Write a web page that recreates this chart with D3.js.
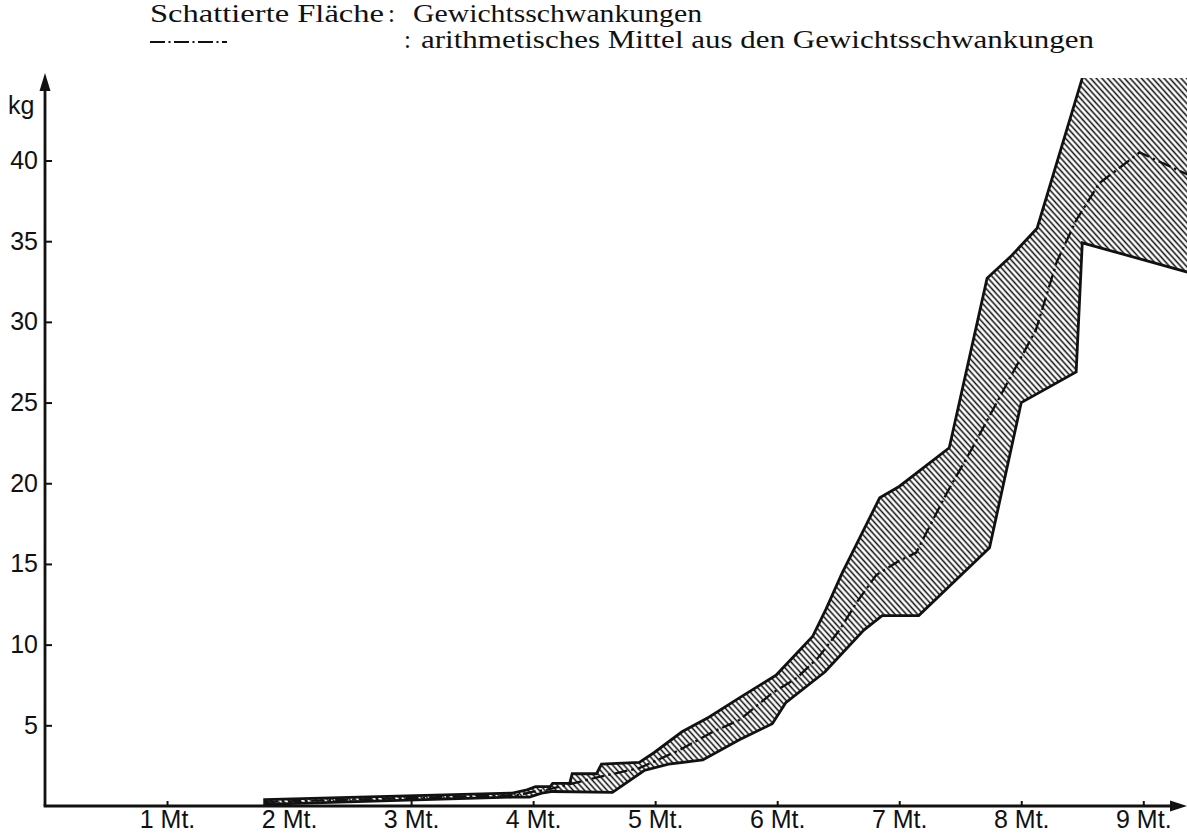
<!DOCTYPE html>
<html>
<head>
<meta charset="utf-8">
<script src="https://cdn.jsdelivr.net/npm/d3@7"></script>
<style>
  body { margin: 0; background: #fff; }
  svg { display: block; }
</style>
</head>
<body>
<svg id="vis" width="1187" height="834"></svg>
<script>
// upper edge of the shaded band (months, kg)
const upperMonths = [1.8, 3.83, 3.95, 4.02, 4.14, 4.16, 4.3, 4.32, 4.52, 4.56, 4.87, 4.99, 5.22, 5.44, 5.69, 5.99, 6.29, 6.4, 6.53, 6.84, 7.0, 7.41, 7.72, 7.92, 8.13, 8.5, 9.4]
const upperKg     = [0.4, 0.8, 1.0, 1.2, 1.2, 1.4, 1.4, 2.0, 2.0, 2.6, 2.7, 3.3, 4.6, 5.5, 6.7, 8.1, 10.5, 12.2, 14.4, 19.1, 19.8, 22.2, 32.7, 34.1, 35.8, 45.1, 62]

// lower edge of the shaded band
const lowerMonths = [1.8, 3.83, 3.97, 4.07, 4.16, 4.65, 4.91, 5.11, 5.39, 5.69, 5.96, 6.07, 6.39, 6.71, 6.86, 7.16, 7.74, 8.0, 8.45, 8.5, 9.4]
const lowerKg     = [0.1, 0.55, 0.55, 0.8, 0.9, 0.85, 2.2, 2.6, 2.85, 4.1, 5.1, 6.4, 8.3, 10.9, 11.8, 11.8, 16.0, 25.0, 26.9, 34.9, 33.0]

// arithmetic mean (dash-dot line)
const meanMonths = [1.8, 3.89, 3.99, 4.11, 4.54, 4.87, 5.2, 5.47, 5.69, 5.96, 6.16, 6.34, 6.51, 6.65, 6.81, 7.0, 7.14, 7.22, 7.39, 7.6, 7.92, 8.12, 8.29, 8.45, 8.64, 8.78, 8.97, 9.4]
const meanKg     = [0.25, 0.68, 0.87, 1.0, 1.8, 2.35, 3.47, 4.58, 5.33, 7.0, 7.93, 9.23, 10.9, 12.6, 14.3, 15.2, 15.7, 16.9, 19.4, 22.2, 26.7, 29.5, 33.7, 36.3, 38.6, 39.4, 40.5, 39.0]

const yTicks = [5, 10, 15, 20, 25, 30, 35, 40]
const xTicks = [1, 2, 3, 4, 5, 6, 7, 8, 9]
const xTickLabels = ["1 Mt.", "2 Mt.", "3 Mt.", "4 Mt.", "5 Mt.", "6 Mt.", "7 Mt.", "8 Mt.", "9 Mt."]

const svg = d3.select("#vis")

const x = d3.scaleLinear().domain([0, 9.35]).range([45, 1186])
const y = d3.scaleLinear().domain([0, 40]).range([806, 160.5])

const defs = svg.append("defs")

// hatching like "\\\\"
const pat = defs.append("pattern")
    .attr("id", "hatch")
    .attr("patternUnits", "userSpaceOnUse")
    .attr("width", 4.2)
    .attr("height", 10)
    .attr("patternTransform", "rotate(-42)")
pat.append("rect").attr("width", 4.2).attr("height", 10).attr("fill", "#fff")
pat.append("line")
    .attr("x1", 2.1).attr("y1", 0).attr("x2", 2.1).attr("y2", 10)
    .attr("stroke", "#111").attr("stroke-width", 1.55)

defs.append("clipPath").attr("id", "plotclip")
    .append("rect")
    .attr("x", x(0)).attr("y", 78)
    .attr("width", 1187 - x(0)).attr("height", 806 - 78)

// band polygon: upper forward, lower backwards
const upperPts = upperMonths.map((m, i) => [x(m), y(upperKg[i])])
const lowerPts = lowerMonths.map((m, i) => [x(m), y(lowerKg[i])]).reverse()
const bandPts = upperPts.concat(lowerPts)

const plot = svg.append("g").attr("clip-path", "url(#plotclip)")

plot.append("path")
    .attr("d", d3.line()(bandPts) + "Z")
    .attr("fill", "url(#hatch)")
    .attr("stroke", "#111")
    .attr("stroke-width", 2.8)
    .attr("stroke-linejoin", "miter")

const meanLine = d3.line()
    .x(d => x(d[0]))
    .y(d => y(d[1]))

plot.append("path")
    .datum(meanMonths.map((m, i) => [m, meanKg[i]]))
    .attr("d", meanLine)
    .attr("fill", "none")
    .attr("stroke", "#111")
    .attr("stroke-width", 2.3)
    .attr("stroke-dasharray", "13,4,2.5,4")

// axes
const labelFont = "'Liberation Sans', Arial, sans-serif"

const yAxis = d3.axisLeft(y)
    .tickValues(yTicks)
    .tickSizeInner(-7)
    .tickSizeOuter(0)
    .tickPadding(7)

const gy = svg.append("g")
    .attr("transform", `translate(${x(0)},0)`)
    .call(yAxis)
gy.select(".domain").remove()
gy.selectAll(".tick line").attr("stroke", "#111").attr("stroke-width", 2)
gy.selectAll(".tick text")
    .attr("fill", "#111")
    .style("font-family", labelFont)
    .style("font-size", "25px")

const xAxis = d3.axisBottom(x)
    .tickValues(xTicks)
    .tickFormat((d, i) => xTickLabels[i])
    .tickSizeInner(-5)
    .tickSizeOuter(0)
    .tickPadding(4)

const gx = svg.append("g")
    .attr("transform", `translate(0,${y(0)})`)
    .call(xAxis)
gx.select(".domain").remove()
gx.selectAll(".tick line").attr("stroke", "#111").attr("stroke-width", 2)
gx.selectAll(".tick text")
    .attr("fill", "#111")
    .style("font-family", labelFont)
    .style("font-size", "25px")

// axis lines with arrows
svg.append("line")
    .attr("x1", x(0)).attr("y1", y(0)).attr("x2", x(0)).attr("y2", 86)
    .attr("stroke", "#111").attr("stroke-width", 2.8)
svg.append("path")
    .attr("d", `M${x(0)},73 L${x(0) - 5.5},91 L${x(0) + 5.5},91 Z`)
    .attr("fill", "#111")

svg.append("line")
    .attr("x1", x(0) - 1.4).attr("y1", y(0)).attr("x2", 1176).attr("y2", y(0))
    .attr("stroke", "#111").attr("stroke-width", 2.8)
svg.append("path")
    .attr("d", `M1187,${y(0)} L1170,${y(0) - 5.5} L1170,${y(0) + 5.5} Z`)
    .attr("fill", "#111")

svg.append("text")
    .attr("x", 8).attr("y", 114)
    .text("kg")
    .attr("fill", "#111")
    .style("font-family", labelFont)
    .style("font-size", "25px")

// legend
const serif = "'Liberation Serif', 'DejaVu Serif', serif"
const legend = svg.append("g")
    .style("font-family", serif)
    .style("font-size", "25px")
    .attr("fill", "#111")

legend.append("text").attr("x", 150).attr("y", 22)
    .attr("textLength", 234).attr("lengthAdjust", "spacingAndGlyphs")
    .text("Schattierte Fläche")
legend.append("text").attr("x", 388).attr("y", 22).text(":")
legend.append("text").attr("x", 413).attr("y", 22)
    .attr("textLength", 289).attr("lengthAdjust", "spacingAndGlyphs")
    .text("Gewichtsschwankungen")

legend.append("line")
    .attr("x1", 150).attr("y1", 42).attr("x2", 227).attr("y2", 42)
    .attr("stroke", "#111").attr("stroke-width", 2)
    .attr("stroke-dasharray", "15,3.5,2,3.5")
legend.append("text").attr("x", 404).attr("y", 48).text(":")
legend.append("text").attr("x", 421).attr("y", 48)
    .attr("textLength", 673).attr("lengthAdjust", "spacingAndGlyphs")
    .text("arithmetisches Mittel aus den Gewichtsschwankungen")
</script>
</body>
</html>
